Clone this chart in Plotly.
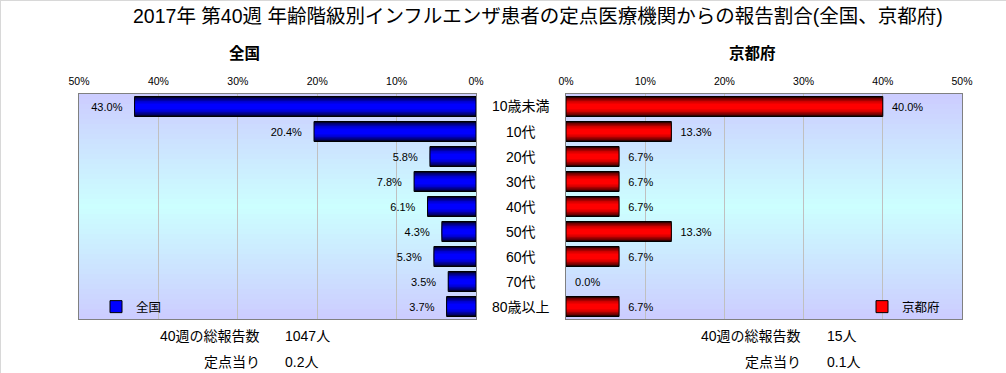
import plotly.graph_objects as go

# ---------------- data ----------------
categories = ['10歳未満', '10代', '20代', '30代', '40代', '50代', '60代', '70代', '80歳以上']
national = [43.0, 20.4, 5.8, 7.8, 6.1, 4.3, 5.3, 3.5, 3.7]
kyoto = [40.0, 13.3, 6.7, 6.7, 6.7, 13.3, 6.7, 0.0, 6.7]
tick_vals = [0, 10, 20, 30, 40, 50]
tick_labels = ['0%', '10%', '20%', '30%', '40%', '50%']
title_text = '2017年 第40週 年齢階級別インフルエンザ患者の定点医療機関からの報告割合(全国、京都府)'
national_name = '全国'
kyoto_name = '京都府'
week_label = '40週の総報告数'
per_site_label = '定点当り'
national_total = '1047人'
national_per_site = '0.2人'
kyoto_total = '15人'
kyoto_per_site = '0.1人'

W, H = 1006, 373
FONT = 'Arial, Liberation Sans, Noto Sans CJK JP, sans-serif'
JFONT = 'Noto Sans CJK JP, sans-serif'


def px_x(p):
    return p / W


def px_y(p):
    return 1 - p / H


fig = go.Figure()

# gradient bar layers (width, colour)
blue_layers = [(0.8, '#000033'), (0.68, '#000070'), (0.56, '#0000a8'),
               (0.44, '#0000d0'), (0.32, '#0000ee'), (0.2, '#0000ff')]
red_layers = [(0.8, '#330000'), (0.68, '#700000'), (0.56, '#a80000'),
              (0.44, '#d00000'), (0.32, '#ee0000'), (0.2, '#ff0000')]

for vals, layers, xa, ya in [(national, blue_layers, 'x', 'y'), (kyoto, red_layers, 'x2', 'y2')]:
    for w, c in layers:
        fig.add_trace(go.Bar(x=vals, y=categories, orientation='h', width=w,
                             marker=dict(color=c, line=dict(width=0)),
                             xaxis=xa, yaxis=ya, showlegend=False, hoverinfo='skip'))

# outline + labels (no outline for zero-length bars)
fig.add_trace(go.Bar(x=national, y=categories, orientation='h', width=0.8,
                     marker=dict(color='rgba(0,0,0,0)',
                                 line=dict(color='black', width=[1 if v > 0 else 0 for v in national])),
                     texttemplate='%{x:.1f}%   ', textposition='outside', cliponaxis=False,
                     textfont=dict(family=FONT, size=11, color='black'),
                     xaxis='x', yaxis='y', showlegend=False))
fig.add_trace(go.Bar(x=kyoto, y=categories, orientation='h', width=0.8,
                     marker=dict(color='rgba(0,0,0,0)',
                                 line=dict(color='black', width=[1 if v > 0 else 0 for v in kyoto])),
                     texttemplate='  %{x:.1f}%', textposition='outside', cliponaxis=False,
                     textfont=dict(family=FONT, size=11, color='black'),
                     xaxis='x2', yaxis='y2', showlegend=False))

# legend entries
fig.add_trace(go.Bar(x=[None], y=[None], orientation='h', name=national_name,
                     marker=dict(color='#0000ff', line=dict(color='black', width=1)),
                     xaxis='x', yaxis='y', legend='legend'))
fig.add_trace(go.Bar(x=[None], y=[None], orientation='h', name=kyoto_name,
                     marker=dict(color='#ff0000', line=dict(color='black', width=1)),
                     xaxis='x2', yaxis='y2', legend='legend2'))

ydom = [px_y(319), px_y(94)]
axis_common = dict(showline=True, linecolor='#808080', linewidth=1, mirror=True,
                   zeroline=False, fixedrange=True, automargin=False)
xcommon = dict(axis_common, side='top', tickmode='array', tickvals=tick_vals, ticktext=tick_labels,
               showgrid=True, gridcolor='#c0c0c0', gridwidth=1, ticks='',
               tickfont=dict(family=FONT, size=10.5, color='black'), ticklabelstandoff=4)
ycommon = dict(axis_common, type='category', categoryorder='array', categoryarray=categories,
               autorange='reversed', showticklabels=False, showgrid=False, ticks='', domain=ydom)

fig.update_layout(
    width=W, height=H,
    margin=dict(l=0, r=0, t=0, b=0, autoexpand=False),
    paper_bgcolor='white', plot_bgcolor='#ccccff',
    barmode='overlay',
    xaxis=dict(xcommon, domain=[px_x(79), px_x(476)], range=[50, 0], anchor='y'),
    yaxis=dict(ycommon, anchor='x'),
    xaxis2=dict(xcommon, domain=[px_x(566), px_x(962)], range=[0, 50], anchor='y2'),
    yaxis2=dict(ycommon, anchor='x2'),
    legend=dict(x=px_x(96), y=px_y(307), xanchor='left', yanchor='middle',
                bgcolor='rgba(0,0,0,0)', font=dict(family=JFONT, size=12.5, color='black'),
                itemwidth=30, tracegroupgap=0),
    legend2=dict(x=px_x(862), y=px_y(307), xanchor='left', yanchor='middle',
                 bgcolor='rgba(0,0,0,0)', font=dict(family=JFONT, size=12.5, color='black'),
                 itemwidth=30, tracegroupgap=0),
    showlegend=True,
)

# background gradient (lavender at edges -> light cyan at centre)
N = 45
shapes = []
for ya in ['y', 'y2']:
    xa = 'x' if ya == 'y' else 'x2'
    for i in range(N):
        t = (i + 0.5) / N
        f = 1 - abs(t - 0.5) * 2
        g = int(round(204 + (255 - 204) * f))
        shapes.append(dict(type='rect', xref=f'{xa} domain', yref=f'{ya} domain',
                           x0=0, x1=1, y0=i / N, y1=(i + 1) / N + 0.002,
                           fillcolor=f'rgb(204,{g},255)', line=dict(width=0), layer='below'))
# faint frame at top/left of the image
shapes.append(dict(type='line', xref='paper', yref='paper', x0=0, x1=1, y0=px_y(0.5), y1=px_y(0.5),
                   line=dict(color='#d8d8d8', width=1)))
shapes.append(dict(type='line', xref='paper', yref='paper', x0=px_x(0.5), x1=px_x(0.5), y0=0, y1=1,
                   line=dict(color='#d8d8d8', width=1)))
fig.update_layout(shapes=shapes)

ann = []
ann.append(dict(text=title_text, x=px_x(538), y=px_y(16), xref='paper', yref='paper',
                showarrow=False, xanchor='center', yanchor='middle',
                font=dict(family=FONT, size=19.5, color='black')))
ann.append(dict(text=f'<b>{national_name}</b>', x=px_x(244), y=px_y(52), xref='paper', yref='paper',
                showarrow=False, xanchor='center', yanchor='middle',
                font=dict(family=JFONT, size=15.5, color='black')))
ann.append(dict(text=f'<b>{kyoto_name}</b>', x=px_x(752), y=px_y(52), xref='paper', yref='paper',
                showarrow=False, xanchor='center', yanchor='middle',
                font=dict(family=JFONT, size=15.5, color='black')))
for c in categories:
    ann.append(dict(text=c, x=px_x(521), y=c, xref='paper', yref='y',
                    showarrow=False, xanchor='center', yanchor='middle',
                    font=dict(family=FONT, size=14, color='black')))
for lab, val, xr, xl, py in [(week_label, national_total, 262, 283, 336),
                             (per_site_label, national_per_site, 262, 283, 362),
                             (week_label, kyoto_total, 803, 825, 336),
                             (per_site_label, kyoto_per_site, 803, 825, 362)]:
    ann.append(dict(text=lab, x=px_x(xr), y=px_y(py), xref='paper', yref='paper',
                    showarrow=False, xanchor='right', yanchor='middle',
                    font=dict(family=FONT, size=14, color='black')))
    ann.append(dict(text=val, x=px_x(xl), y=px_y(py), xref='paper', yref='paper',
                    showarrow=False, xanchor='left', yanchor='middle',
                    font=dict(family=FONT, size=14, color='black')))
fig.update_layout(annotations=ann)

fig.write_html('out.html', config={'displayModeBar': False},
               post_script="document.body.style.margin='0';")
